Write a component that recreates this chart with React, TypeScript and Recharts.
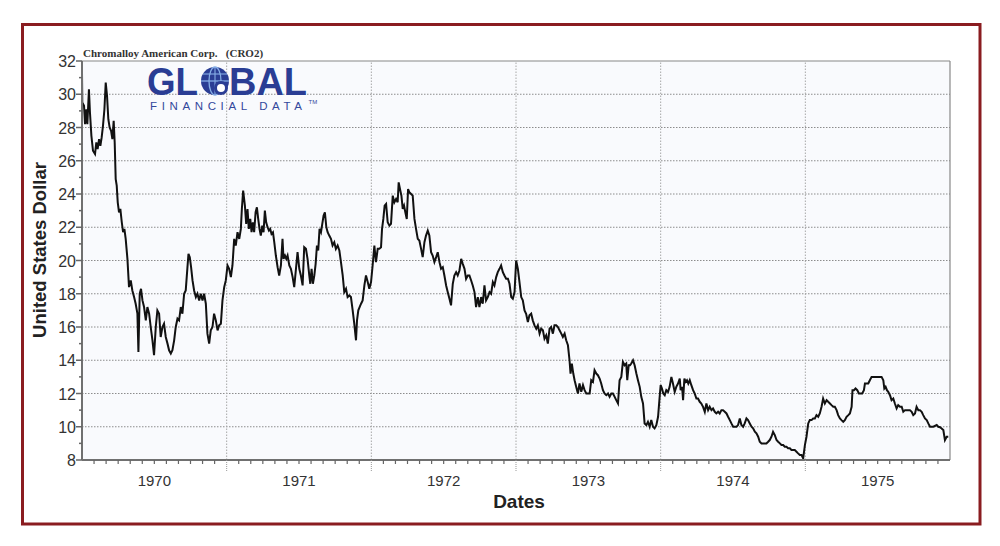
import { LineChart, Line, XAxis, YAxis, CartesianGrid, ReferenceLine } from "recharts";

// decimal years (weekly closes)
const dates = [
  1970.000, 1970.002, 1970.014, 1970.021, 1970.030, 1970.037, 1970.048, 1970.055, 1970.065, 1970.076,
  1970.090, 1970.099, 1970.108, 1970.118, 1970.127, 1970.136, 1970.145, 1970.155, 1970.164, 1970.173,
  1970.182, 1970.191, 1970.201, 1970.210, 1970.219, 1970.226, 1970.233, 1970.240, 1970.247, 1970.256,
  1970.265, 1970.275, 1970.284, 1970.293, 1970.302, 1970.314, 1970.325, 1970.337, 1970.348, 1970.360,
  1970.371, 1970.383, 1970.390, 1970.399, 1970.408, 1970.418, 1970.429, 1970.441, 1970.452, 1970.464,
  1970.475, 1970.487, 1970.498, 1970.510, 1970.521, 1970.533, 1970.544, 1970.556, 1970.567, 1970.579,
  1970.591, 1970.602, 1970.614, 1970.625, 1970.637, 1970.648, 1970.660, 1970.671, 1970.683, 1970.694,
  1970.706, 1970.717, 1970.729, 1970.736, 1970.745, 1970.754, 1970.764, 1970.775, 1970.787, 1970.798,
  1970.810, 1970.821, 1970.833, 1970.844, 1970.856, 1970.867, 1970.879, 1970.890, 1970.902, 1970.913,
  1970.925, 1970.937, 1970.948, 1970.960, 1970.971, 1970.983, 1970.994,
  1971.006, 1971.017, 1971.029, 1971.040, 1971.052, 1971.063, 1971.075, 1971.087, 1971.098, 1971.105,
  1971.114, 1971.126, 1971.135, 1971.144, 1971.153, 1971.163, 1971.172, 1971.181, 1971.190, 1971.200,
  1971.209, 1971.218, 1971.227, 1971.236, 1971.246, 1971.255, 1971.264, 1971.273, 1971.283, 1971.292,
  1971.301, 1971.310, 1971.320, 1971.329, 1971.340, 1971.352, 1971.363, 1971.375, 1971.386, 1971.393,
  1971.403, 1971.412, 1971.421, 1971.433, 1971.444, 1971.456, 1971.467, 1971.479, 1971.490, 1971.502,
  1971.513, 1971.525, 1971.536, 1971.548, 1971.559, 1971.571, 1971.578, 1971.587, 1971.596, 1971.606,
  1971.615, 1971.624, 1971.633, 1971.642, 1971.652, 1971.661, 1971.670, 1971.679, 1971.689, 1971.698,
  1971.709, 1971.721, 1971.732, 1971.744, 1971.755, 1971.767, 1971.779, 1971.790, 1971.802, 1971.813,
  1971.825, 1971.836, 1971.848, 1971.859, 1971.871, 1971.882, 1971.894, 1971.901, 1971.910, 1971.919,
  1971.929, 1971.940, 1971.952, 1971.963, 1971.975, 1971.986, 1971.998,
  1972.009, 1972.021, 1972.032, 1972.044, 1972.055, 1972.067, 1972.074, 1972.083, 1972.092, 1972.102,
  1972.113, 1972.125, 1972.136, 1972.148, 1972.159, 1972.171, 1972.182, 1972.189, 1972.198, 1972.208,
  1972.217, 1972.226, 1972.235, 1972.245, 1972.254, 1972.263, 1972.275, 1972.286, 1972.298, 1972.309,
  1972.321, 1972.332, 1972.344, 1972.355, 1972.367, 1972.378, 1972.390, 1972.401, 1972.413, 1972.424,
  1972.436, 1972.448, 1972.459, 1972.471, 1972.482, 1972.494, 1972.505, 1972.517, 1972.528, 1972.540,
  1972.551, 1972.563, 1972.574, 1972.586, 1972.597, 1972.609, 1972.621, 1972.632, 1972.644, 1972.655,
  1972.667, 1972.678, 1972.690, 1972.701, 1972.713, 1972.724, 1972.736, 1972.747, 1972.759, 1972.770,
  1972.782, 1972.793, 1972.805, 1972.817, 1972.828, 1972.840, 1972.851, 1972.863, 1972.874, 1972.886,
  1972.897, 1972.909, 1972.920, 1972.932, 1972.944, 1972.955, 1972.967, 1972.978, 1972.990,
  1973.001, 1973.013, 1973.024, 1973.036, 1973.047, 1973.059, 1973.070, 1973.082, 1973.093, 1973.105,
  1973.116, 1973.128, 1973.140, 1973.151, 1973.163, 1973.174, 1973.186, 1973.197, 1973.209, 1973.220,
  1973.232, 1973.243, 1973.255, 1973.266, 1973.278, 1973.290, 1973.301, 1973.313, 1973.324, 1973.336,
  1973.347, 1973.359, 1973.370, 1973.377, 1973.386, 1973.396, 1973.405, 1973.416, 1973.428, 1973.439,
  1973.451, 1973.463, 1973.474, 1973.486, 1973.497, 1973.509, 1973.520, 1973.532, 1973.543, 1973.555,
  1973.566, 1973.578, 1973.589, 1973.601, 1973.612, 1973.624, 1973.636, 1973.647, 1973.659, 1973.670,
  1973.682, 1973.693, 1973.705, 1973.716, 1973.728, 1973.739, 1973.751, 1973.762, 1973.769, 1973.779,
  1973.788, 1973.797, 1973.809, 1973.820, 1973.832, 1973.843, 1973.855, 1973.866, 1973.878, 1973.889,
  1973.901, 1973.912, 1973.924, 1973.935, 1973.947, 1973.958, 1973.970, 1973.982, 1973.993,
  1974.000, 1974.009, 1974.018, 1974.028, 1974.039, 1974.051, 1974.062, 1974.074, 1974.085, 1974.097,
  1974.108, 1974.120, 1974.132, 1974.138, 1974.148, 1974.155, 1974.164, 1974.173, 1974.182, 1974.191,
  1974.201, 1974.212, 1974.224, 1974.235, 1974.247, 1974.258, 1974.270, 1974.281, 1974.293, 1974.305,
  1974.316, 1974.328, 1974.339, 1974.351, 1974.362, 1974.374, 1974.385, 1974.397, 1974.408, 1974.420,
  1974.431, 1974.443, 1974.455, 1974.466, 1974.478, 1974.489, 1974.501, 1974.512, 1974.524, 1974.535,
  1974.547, 1974.558, 1974.570, 1974.581, 1974.593, 1974.604, 1974.616, 1974.628, 1974.639, 1974.651,
  1974.662, 1974.674, 1974.685, 1974.697, 1974.708, 1974.720, 1974.731, 1974.743, 1974.754, 1974.766,
  1974.777, 1974.789, 1974.801, 1974.812, 1974.824, 1974.835, 1974.847, 1974.858, 1974.870, 1974.881,
  1974.893, 1974.904, 1974.916, 1974.927, 1974.939, 1974.950, 1974.962, 1974.974, 1974.985, 1974.997,
  1975.008, 1975.020, 1975.031, 1975.043, 1975.054, 1975.066, 1975.077, 1975.089, 1975.100, 1975.112,
  1975.123, 1975.135, 1975.147, 1975.158, 1975.170, 1975.181, 1975.193, 1975.204, 1975.216, 1975.227,
  1975.239, 1975.250, 1975.262, 1975.273, 1975.285, 1975.297, 1975.308, 1975.320, 1975.326, 1975.336,
  1975.347, 1975.359, 1975.370, 1975.382, 1975.393, 1975.405, 1975.412, 1975.423, 1975.435, 1975.446,
  1975.458, 1975.481, 1975.504, 1975.527, 1975.539, 1975.546, 1975.555, 1975.564, 1975.573, 1975.585,
  1975.596, 1975.608, 1975.619, 1975.631, 1975.642, 1975.654, 1975.666, 1975.677, 1975.689, 1975.712,
  1975.723, 1975.735, 1975.746, 1975.758, 1975.769, 1975.781, 1975.792, 1975.804, 1975.815, 1975.827,
  1975.839, 1975.850, 1975.862, 1975.885, 1975.908, 1975.919, 1975.931, 1975.942, 1975.954, 1975.965,
  1975.977, 1975.988,
];

const prices = [
  31.3, 29.5, 29.3, 28.2, 29.1, 28.2, 30.3, 28.9, 27.5, 26.6,
  26.4, 27.1, 26.7, 27.3, 26.9, 27.4, 28.1, 29.1, 30.7, 29.9,
  28.5, 28.0, 27.8, 27.3, 28.4, 27.1, 24.9, 24.5, 23.5, 22.9,
  23.1, 22.3, 21.7, 21.9, 21.3, 20.1, 18.4, 18.8, 18.2, 17.8,
  17.4, 16.8, 14.5, 18.0, 18.3, 17.6, 17.2, 16.4, 17.2, 16.8,
  16.0, 15.2, 14.3, 16.0, 17.0, 16.8, 15.4, 16.0, 16.2, 15.4,
  15.0, 14.6, 14.4, 14.6, 15.2, 16.0, 16.5, 16.4, 17.2, 16.8,
  18.0, 18.2, 19.6, 20.4, 20.2, 19.6, 18.8, 18.2, 17.8, 18.0,
  17.6, 18.0, 17.6, 18.0, 17.4, 15.6, 15.0, 15.8, 16.0, 16.8,
  16.4, 15.8, 16.1, 16.2, 17.6, 18.4, 18.8,
  19.7, 19.5, 19.0, 19.7, 21.3, 20.9, 21.7, 21.3, 21.9, 23.1,
  24.2, 23.3, 22.2, 23.1, 21.9, 22.5, 21.7, 22.3, 21.7, 22.9,
  23.2, 22.5, 21.9, 21.5, 22.1, 21.7, 23.0, 22.3, 22.0, 21.8,
  21.9, 21.6, 21.7, 21.1, 20.3, 19.6, 19.1, 19.7, 21.3, 20.1,
  20.3, 20.1, 20.3, 19.7, 19.5, 19.0, 18.4, 19.5, 20.5, 19.5,
  19.1, 18.5, 20.8, 20.7, 20.1, 19.1, 18.6, 19.5, 18.6, 19.1,
  19.8, 20.9, 20.6, 21.9, 21.7, 22.2, 22.7, 22.9, 22.0, 21.7,
  21.5, 21.3, 20.9, 21.1, 20.7, 20.9, 20.6, 19.9, 19.1, 18.1,
  18.3, 17.8, 17.9, 17.8, 17.0, 16.2, 15.2, 16.4, 17.0, 17.2,
  17.4, 17.6, 18.5, 19.1, 18.7, 18.3, 18.7,
  19.7, 20.9, 19.9, 20.7, 20.7, 20.8, 21.9, 22.5, 23.3, 23.4,
  22.3, 22.1, 22.2, 23.9, 23.5, 23.7, 23.5, 24.7, 24.3, 23.9,
  23.1, 23.3, 22.9, 22.5, 24.3, 24.1, 24.0, 23.9, 22.5, 21.9,
  21.3, 21.2, 20.7, 20.2, 21.1, 21.5, 21.8, 21.5, 20.5, 20.3,
  19.9, 20.2, 20.5, 19.9, 19.5, 19.6, 19.1, 18.5, 18.1, 17.7,
  17.3, 18.6, 19.1, 19.3, 19.1, 19.4, 20.1, 19.8, 19.5, 18.9,
  19.1, 19.1, 18.8, 18.5, 18.1, 17.2, 17.8, 17.2, 17.8, 17.4,
  18.5, 17.6, 17.8, 18.1, 18.0, 18.7, 18.5, 19.0, 19.3, 19.5,
  19.7, 19.3, 19.1, 18.9, 18.9, 18.6, 17.8, 17.7, 18.1,
  20.0, 19.5, 18.7, 17.8, 17.6, 17.0, 16.8, 16.3, 16.7, 16.8,
  16.4, 16.1, 15.9, 16.1, 15.6, 15.9, 15.8, 15.3, 15.5, 15.0,
  15.9, 16.0, 15.6, 16.1, 16.1, 16.0, 15.8, 15.6, 15.4, 15.6,
  15.2, 14.9, 14.0, 13.2, 13.8, 13.2, 12.8, 12.4, 12.0, 12.6,
  12.1, 12.5, 12.2, 12.0, 12.0, 12.0, 12.8, 12.7, 13.4, 13.2,
  13.1, 12.9, 12.6, 12.2, 12.0, 11.9, 12.0, 11.8, 12.0, 12.0,
  11.8, 11.6, 11.4, 12.8, 13.0, 13.9, 13.7, 13.8, 12.8, 13.7,
  13.7, 13.8, 14.0, 13.7, 13.2, 12.8, 12.4, 11.8, 11.4, 10.2,
  10.1, 10.3, 10.0, 10.4, 10.0, 9.9, 10.1, 10.6, 11.8,
  12.5, 12.3, 12.0, 11.9, 12.2, 12.1, 12.4, 13.0, 12.6, 12.1,
  12.4, 12.6, 12.9, 12.2, 12.4, 11.6, 12.9, 12.7, 12.8, 12.6,
  12.8, 12.5, 12.2, 12.0, 11.7, 11.7, 11.5, 11.4, 11.2, 10.9,
  11.4, 11.0, 11.2, 11.0, 11.1, 10.9, 10.8, 10.9, 10.8, 11.0,
  11.0, 10.9, 10.8, 10.6, 10.4, 10.2, 10.0, 10.0, 10.0, 10.1,
  10.5, 10.1, 10.0, 10.2, 10.5, 10.4, 10.2, 10.0, 9.9, 9.7,
  9.6, 9.4, 9.1, 9.0, 9.0, 9.0, 9.0, 9.1, 9.2, 9.4,
  9.7, 9.5, 9.2, 9.1, 9.0, 8.9, 8.9, 8.8, 8.8, 8.7,
  8.7, 8.6, 8.6, 8.6, 8.5, 8.4, 8.3, 8.3, 8.1, 8.9,
  9.4, 10.2, 10.4, 10.4, 10.5, 10.5, 10.7, 10.6, 10.8, 11.2,
  11.7, 11.4, 11.6, 11.5, 11.4, 11.3, 11.2, 11.2, 11.0, 10.7,
  10.5, 10.4, 10.3, 10.4, 10.6, 10.7, 10.8, 11.2, 12.2, 12.2,
  12.3, 12.2, 12.0, 12.0, 12.0, 12.2, 12.6, 12.6, 12.6, 12.8,
  13.0, 13.0, 13.0, 13.0, 12.8, 12.3, 12.4, 12.2, 12.1, 11.9,
  11.6, 11.7, 11.4, 11.1, 11.3, 11.2, 11.2, 10.9, 11.0, 11.0,
  11.0, 10.9, 10.7, 10.8, 11.2, 11.0, 11.0, 10.9, 10.7, 10.5,
  10.4, 10.2, 10.0, 10.0, 10.1, 10.0, 9.97, 9.9, 9.8, 9.2,
  9.4, 9.4,
];

const yearLabels = ["1970", "1971", "1972", "1973", "1974", "1975"];
const priceTicks = [8, 9, 10, 11, 12, 13, 14, 15, 16, 17, 18, 19, 20, 21, 22, 23, 24, 25, 26, 27, 28, 29, 30, 31, 32];
const gridPrices = [10, 12, 14, 16, 18, 20, 22, 24, 26, 28, 30];
const yearLines = [1971, 1972, 1973, 1974, 1975];
const monthTicks = Array.from({ length: 73 }, (_, m) => 1970 + m / 12);

const data = dates.map((d, i) => ({ date: d, price: prices[i] }));

const FONT = "'Liberation Sans', Arial, sans-serif";
const LOGO = "#2a3d94";

function MonthTick(props: any) {
  const { x, y, payload } = props;
  const m = Math.round((payload.value - 1970) * 12);
  let mark = null;
  if (m % 12 === 0) {
    if (m > 0 && m < 72) mark = <line x1={x} x2={x} y1={y} y2={y + 12} stroke="#999" strokeDasharray="1 1" />;
  } else {
    mark = <line x1={x} x2={x} y1={y} y2={y + 4} stroke="#666" strokeWidth={1.2} />;
  }
  return (
    <g>
      {mark}
      {m % 12 === 6 ? (
        <text x={x} y={y + 26} textAnchor="middle" fontSize={15} fill="#333" fontFamily={FONT}>
          {yearLabels[Math.floor(m / 12)]}
        </text>
      ) : null}
    </g>
  );
}

function PriceTick(props: any) {
  const { x, y, payload } = props;
  const major = payload.value % 2 === 0;
  return (
    <g>
      <line x1={x - (major ? 6 : 3)} x2={x} y1={y} y2={y} stroke="#666" strokeWidth={1.5} />
      {major ? (
        <text x={x - 6} y={y + 6} textAnchor="end" fontSize={16} fill="#333" fontFamily={FONT}>
          {payload.value}
        </text>
      ) : null}
    </g>
  );
}

export default function App() {
  return (
    <div style={{ position: "absolute", left: 0, top: 0, width: 1000, height: 546, background: "#fff", fontFamily: FONT }}>
      <LineChart width={1000} height={546} data={data} margin={{ top: 61, right: 50, bottom: 56, left: 22 }}>
        <CartesianGrid horizontal={false} vertical={false} fill="#f9fafd" />
        {gridPrices.map((v) => (
          <ReferenceLine key={"h" + v} y={v} stroke="#8c8c8c" strokeDasharray="1.5 1.5" />
        ))}
        {yearLines.map((v) => (
          <ReferenceLine key={"v" + v} x={v} stroke="#a8a8a8" strokeDasharray="1.5 1.5" />
        ))}
        <ReferenceLine y={32} stroke="#888" strokeWidth={1.2} />
        <ReferenceLine x={1976} stroke="#888" strokeWidth={1.2} />
        <XAxis
          dataKey="date"
          type="number"
          domain={[1970, 1976]}
          ticks={monthTicks}
          interval={0}
          height={30}
          tickSize={0}
          tickMargin={0}
          tickLine={false}
          axisLine={{ stroke: "#707070", strokeWidth: 2 }}
          tick={<MonthTick />}
          allowDataOverflow
        />
        <YAxis
          type="number"
          domain={[8, 32]}
          ticks={priceTicks}
          interval={0}
          width={60}
          tickSize={0}
          tickMargin={0}
          tickLine={false}
          axisLine={{ stroke: "#707070", strokeWidth: 2 }}
          tick={<PriceTick />}
          allowDataOverflow
        />
        <Line
          type="linear"
          dataKey="price"
          stroke="#111"
          strokeWidth={2}
          dot={false}
          isAnimationActive={false}
        />
      </LineChart>
      <svg width={1000} height={546} style={{ position: "absolute", left: 0, top: 0, pointerEvents: "none" }}>
        <rect x={22.5} y={24.5} width={957.5} height={499.5} fill="none" stroke="#8a1c20" strokeWidth={3} />
        <text x={83} y={57} fontSize={11} fontWeight="bold" fill="#333" fontFamily="'Liberation Serif', serif" style={{ whiteSpace: "pre" }}>
          Chromalloy American Corp.   (CRO2)
        </text>
        <text x={147} y={95} fontSize={39} fontWeight="bold" fill={LOGO} fontFamily={FONT} textLength={51} lengthAdjust="spacingAndGlyphs">
          GL
        </text>
        <circle cx={215} cy={81} r={14} fill={LOGO} />
        <ellipse cx={215} cy={81} rx={6} ry={14} fill="none" stroke="#86aee6" strokeWidth={1.3} />
        <line x1={201} x2={229} y1={81} y2={81} stroke="#86aee6" strokeWidth={1.3} />
        <line x1={203} x2={227} y1={74} y2={74} stroke="#86aee6" strokeWidth={1.1} />
        <line x1={215} x2={215} y1={67} y2={95} stroke="#86aee6" strokeWidth={1.1} />
        <circle cx={221} cy={88} r={5.5} fill="#fff" stroke={LOGO} strokeWidth={3} />
        <text x={229} y={95} fontSize={39} fontWeight="bold" fill={LOGO} fontFamily={FONT} textLength={78} lengthAdjust="spacingAndGlyphs">
          BAL
        </text>
        <text x={150} y={110} fontSize={11.5} fill="#33489c" fontFamily={FONT}>
          <tspan textLength={152} lengthAdjust="spacing">FINANCIAL DATA</tspan>
          <tspan dx={2} dy={-6} fontSize={6}>TM</tspan>
        </text>
        <text transform="translate(46, 250) rotate(-90)" textAnchor="middle" fontSize={18.5} fontWeight="bold" fill="#222" fontFamily={FONT}>
          United States Dollar
        </text>
        <text x={519} y={508} textAnchor="middle" fontSize={19} fontWeight="bold" fill="#222" fontFamily={FONT}>
          Dates
        </text>
      </svg>
    </div>
  );
}
